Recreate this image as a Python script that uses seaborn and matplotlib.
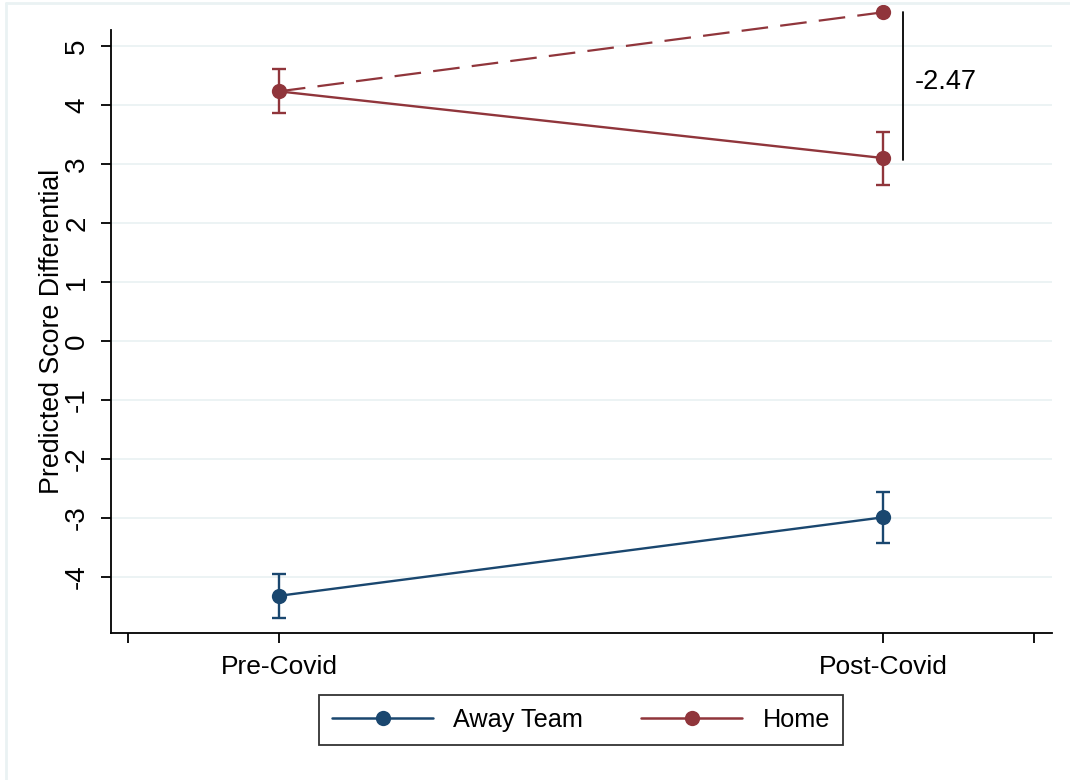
import pandas as pd
import matplotlib.pyplot as plt
from matplotlib.lines import Line2D
import seaborn as sns

# 값
periods = ['Pre-Covid', 'Post-Covid']
away_pred = [-4.32, -2.99]
away_lo = [-4.69, -3.42]
away_hi = [-3.95, -2.56]
home_pred = [4.23, 3.10]
home_lo = [3.86, 2.65]
home_hi = [4.61, 3.54]
home_counterfactual = [4.23, 5.57]
diff_label = '-2.47'

away_color = '#1A476F'
home_color = '#90353B'
grid_color = '#EAF2F3'

df = pd.DataFrame({
    'x': [0, 1, 0, 1],
    'pred': away_pred + home_pred,
    'group': ['Away Team'] * 2 + ['Home'] * 2,
})

sns.set_theme(style='white')
plt.rcParams['font.family'] = ['Liberation Sans', 'DejaVu Sans']
plt.rcParams['text.color'] = 'black'
plt.rcParams['axes.labelcolor'] = 'black'

fig = plt.figure(figsize=(10.7, 7.8), dpi=100)
ax = fig.add_axes([111 / 1070, 1 - 633 / 780, (1052 - 111) / 1070, (633 - 30) / 780])

# 격자선
for y in range(-4, 6):
    ax.axhline(y, color=grid_color, lw=1.3, zorder=0)

# 반사실 점선
ax.plot([0, 1], home_counterfactual, color=home_color, lw=1.6,
        ls=(0, (12, 5.5)), zorder=2, clip_on=False)
ax.plot([1], [home_counterfactual[1]], 'o', color=home_color, ms=11,
        markeredgewidth=0, zorder=3, clip_on=False)

sns.lineplot(data=df, x='x', y='pred', hue='group',
             palette={'Away Team': away_color, 'Home': home_color},
             marker='o', markersize=11, markeredgewidth=0, lw=1.7,
             legend=False, ax=ax, zorder=3)

# 신뢰구간
for pred, lo, hi, col in [(away_pred, away_lo, away_hi, away_color),
                          (home_pred, home_lo, home_hi, home_color)]:
    yerr = [[p - l for p, l in zip(pred, lo)], [h - p for p, h in zip(pred, hi)]]
    ax.errorbar([0, 1], pred, yerr=yerr, fmt='none', ecolor=col,
                elinewidth=1.7, capsize=5, capthick=1.7, zorder=3)

# 차이 표시
ax.plot([1.033, 1.033], [home_counterfactual[1], home_pred[1] - 0.03],
        color='black', lw=1.3, clip_on=False)
ax.text(1.053, 4.39, diff_label, fontsize=19.5, va='center', ha='left')

ax.set_xlim(-0.278, 1.28)
ax.set_ylim(-4.95, 5.27)
ax.set_xticks([-0.25, 0, 1, 1.25])
ax.set_xticklabels(['', periods[0], periods[1], ''])
ax.set_yticks(range(-4, 6))
ax.set_yticklabels([str(v) for v in range(-4, 6)], rotation=90, va='center')
ax.tick_params(axis='both', direction='out', length=7, width=1.3,
               color='black', labelcolor='black', bottom=True, left=True)
ax.tick_params(axis='y', pad=8, labelsize=20)
ax.tick_params(axis='x', pad=9, labelsize=19)
ax.set_xlabel('')
ax.set_ylabel('Predicted Score Differential', fontsize=19.3)
ax.yaxis.set_label_coords(-0.049, 0.5)
sns.despine(ax=ax)
for s in ['left', 'bottom']:
    ax.spines[s].set_color('black')
    ax.spines[s].set_linewidth(1.3)

handles = [Line2D([], [], color=away_color, lw=1.8, marker='o', ms=11, markeredgewidth=0),
           Line2D([], [], color=home_color, lw=1.8, marker='o', ms=11, markeredgewidth=0)]
leg = fig.legend(handles, ['Away Team', 'Home'], loc='center',
                 bbox_to_anchor=(581 / 1070, 1 - 720 / 780), ncol=2,
                 fontsize=18.2, frameon=True, fancybox=False, edgecolor='black',
                 handlelength=4.0, handletextpad=0.8, columnspacing=2.3,
                 borderpad=0.5, borderaxespad=0)
leg.get_frame().set_linewidth(1.3)

# 바깥 테두리
fig.add_artist(Line2D([6 / 1070, 6 / 1070], [0, 1 - 3 / 780], color=grid_color, lw=2))
fig.add_artist(Line2D([6 / 1070, 1], [1 - 3 / 780, 1 - 3 / 780], color=grid_color, lw=2))

fig.savefig('out.png', dpi=100)
